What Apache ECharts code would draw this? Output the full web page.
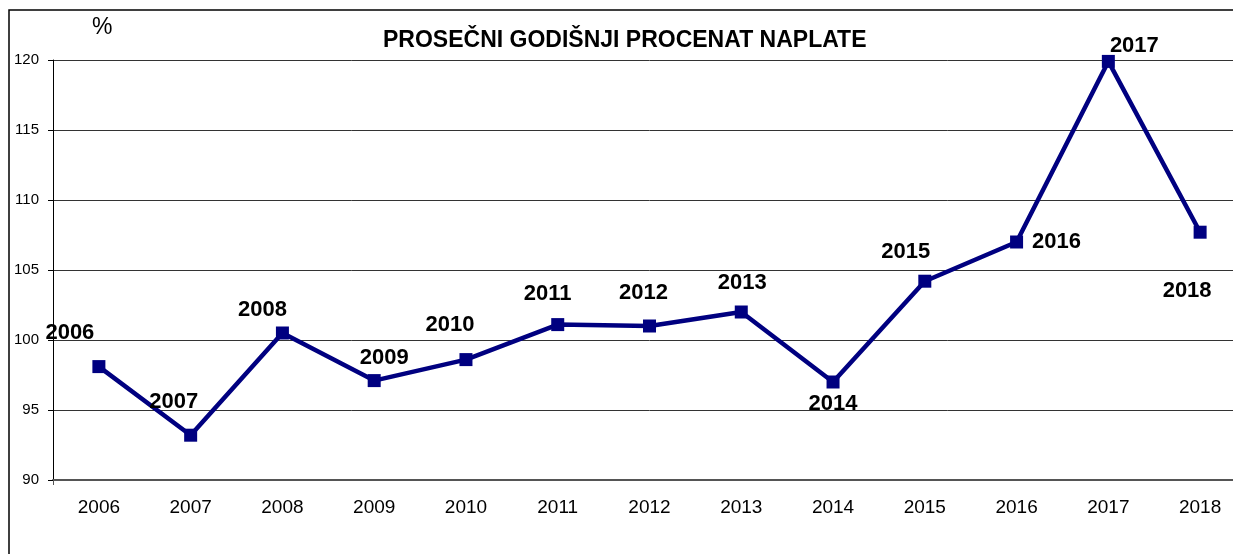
<!DOCTYPE html>
<html>
<head>
<meta charset="utf-8">
<script src="https://cdn.jsdelivr.net/npm/echarts@6/dist/echarts.min.js"></script>
<style>
html,body{margin:0;padding:0;background:#fff;overflow:hidden;}
#chart{width:1246px;height:554px;}
</style>
</head>
<body>
<div id="chart"></div>
<script>
const categories = ['2006','2007','2008','2009','2010','2011','2012','2013','2014','2015','2016','2017','2018'];
const values = [98.1, 93.2, 100.5, 97.1, 98.6, 101.1, 101.0, 102.0, 97.0, 104.2, 107.0, 119.9, 107.7];
const labelOffsets = [[-29,-34],[-17,-33],[-20,-23],[10,-23],[-16,-35],[-10,-31],[-6,-33],[1,-29],[0,22],[-19,-29],[40,0],[26,-15],[-13,59]];
const yTicks = {min: 90, max: 120, interval: 5};
const titleText = 'PROSEČNI GODIŠNJI PROCENAT NAPLATE';
const unitText = '%';

const chart = echarts.init(document.getElementById('chart'), null, {renderer: 'canvas'});
const data = values.map((v, i) => ({
  value: v,
  label: {offset: labelOffsets[i]}
}));
chart.setOption({
  animation: false,
  backgroundColor: '#fff',
  textStyle: {fontFamily: 'Liberation Sans, Arial, sans-serif'},
  graphic: [
    {type: 'rect', shape: {x: 9, y: 10, width: 1300, height: 600}, style: {fill: 'none', stroke: '#000', lineWidth: 1.5}, z: 0},
    {type: 'text', left: 383, top: 29, style: {text: titleText, font: 'bold 23px "Liberation Sans", Arial, sans-serif', fill: '#000'}},
    {type: 'text', left: 92, top: 16, style: {text: unitText, font: '23px "Liberation Sans", Arial, sans-serif', fill: '#000'}}
  ],
  grid: {left: 53, top: 60, right: 0, height: 420, containLabel: false},
  xAxis: {
    type: 'category',
    data: categories,
    boundaryGap: true,
    axisLine: {show: true, lineStyle: {color: '#555', width: 2}},
    axisTick: {show: true, length: 5, lineStyle: {color: '#555'}, interval: function (i) { return i === 12; }},
    axisLabel: {color: '#000', fontSize: 19, margin: 18, fontFamily: 'Liberation Sans, Arial, sans-serif'},
    splitLine: {show: false}
  },
  yAxis: {
    type: 'value',
    min: yTicks.min, max: yTicks.max, interval: yTicks.interval,
    axisLine: {show: true, lineStyle: {color: '#000', width: 1}},
    axisTick: {show: true, length: 5, lineStyle: {color: '#000'}},
    axisLabel: {color: '#000', fontSize: 15, margin: 14, fontFamily: 'Liberation Sans, Arial, sans-serif'},
    splitLine: {show: true, lineStyle: {color: '#333', width: 1}}
  },
  series: [{
    type: 'line',
    data: data,
    symbol: 'rect',
    symbolSize: 13,
    lineStyle: {color: '#000080', width: 4.5},
    itemStyle: {color: '#000080'},
    label: {
      show: true,
      position: 'inside',
      formatter: '{b}',
      color: '#000',
      fontSize: 22,
      fontWeight: 'bold',
      fontFamily: 'Liberation Sans, Arial, sans-serif'
    },
    z: 3
  }]
});
</script>
</body>
</html>
